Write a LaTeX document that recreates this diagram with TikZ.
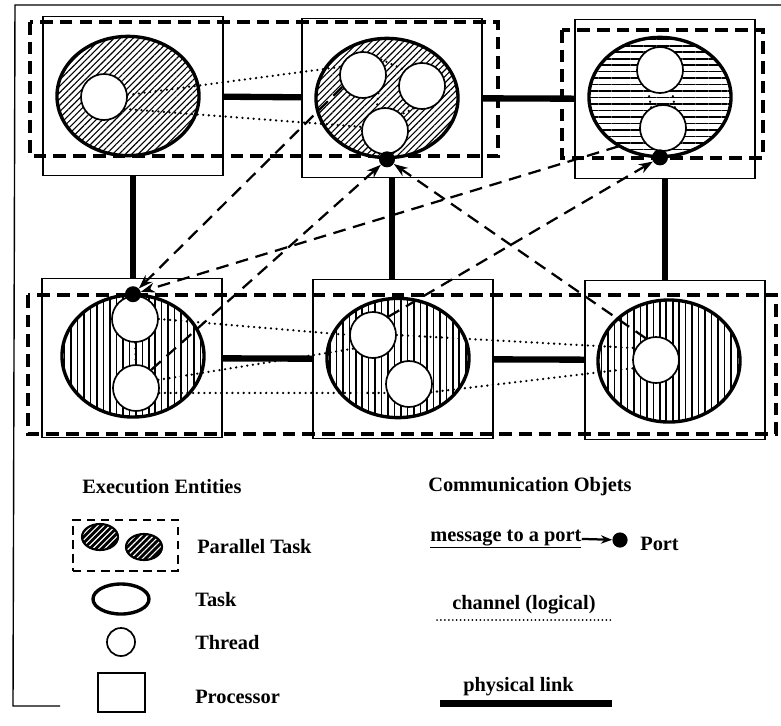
\documentclass[tikz,border=0pt]{standalone}
\usepackage{fontspec}
\setmainfont{Liberation Serif}
\usetikzlibrary{arrows.meta, shapes.geometric, patterns.meta}

\begin{document}
\begin{tikzpicture}[x=0.025cm, y=-0.025cm,
    proc/.style={draw, line width=1.1pt, minimum width=4.5cm, minimum height=3.975cm, inner sep=0pt},
    task/.style={ellipse, draw, line width=2.4pt, minimum width=3.55cm, minimum height=2.98cm,
      inner sep=0pt, preaction={fill=white}},
    thread/.style={circle, draw, line width=1.2pt, fill=white, minimum size=1.15cm, inner sep=0pt},
    port/.style={circle, fill=black, minimum size=0.4cm, inner sep=0pt}]
  \tikzset{diag/.style={pattern={Lines[angle=45, distance=3.2pt, line width=0.8pt]}},
    horiz/.style={pattern={Lines[angle=0, distance=4.6pt, line width=1.1pt]}},
    vert/.style={pattern={Lines[angle=90, distance=4.6pt, line width=1.1pt]}},
    link/.style={line width=4.5pt},
    ptask/.style={line width=2.8pt, dash pattern=on 9pt off 5pt},
    chan/.style={line width=1.8pt, dash pattern=on 0pt off 4pt, line cap=round},
    msg/.style={line width=1.6pt, dash pattern=on 9pt off 5.5pt, -{Stealth[length=10pt, width=7pt]}},
    lbl/.style={anchor=west, inner sep=0pt, font=\fontsize{14.5}{16}\selectfont\bfseries}}
  \useasboundingbox (0,0) rectangle (781,725);
  \draw[line width=1pt] (781,5) -- (15,5) -- (13,706) -- (60,706);

  \node[proc] (p1) at (133,96) {};
  \node[proc] (p2) at (392,98) {};
  \node[proc] (p3) at (665,99) {};
  \node[proc] (p4) at (132,358) {};
  \node[proc] (p5) at (403,359) {};
  \node[proc] (p6) at (675,360) {};

  \draw[ptask] (30,22) rectangle (498,156);
  \draw[ptask] (562,30) rectangle (763,158);
  \draw[ptask] (28,295) rectangle (776,434);

  \draw[link] (p1) -- (p2);
  \draw[link] (p2) -- (p3);
  \draw[link] (p4) -- (p5);
  \draw[link] (p5) -- (p6);
  \draw[link] (p1.south) -- (p1.south |- p4.north);
  \draw[link] (p2.south) -- (p2.south |- p5.north);
  \draw[link] (p3.south) -- (p3.south |- p6.north);

  \node[task, diag] (tk1) at (128,96) {};
  \node[task, diag] (tk2) at (387,98) {};
  \node[task, horiz] (tk3) at (660,97) {};
  \node[task, vert, minimum height=3.05cm] (tk4) at (133,356) {};
  \node[task, vert] (tk5) at (398,358) {};
  \node[task, vert, minimum height=3.05cm] (tk6) at (669,361) {};

  \node[thread] (th1) at (104,97) {};
  \node[thread] (th2a) at (363,75) {};
  \node[thread] (th2b) at (422,86) {};
  \node[thread] (th2c) at (385,131) {};
  \node[thread] (th3a) at (660,70) {};
  \node[thread] (th3b) at (663,128) {};
  \node[thread] (th4a) at (135,319) {};
  \node[thread] (th4b) at (136,388) {};
  \node[thread] (th5a) at (373,335) {};
  \node[thread] (th5b) at (409,384) {};
  \node[thread] (th6) at (656,360) {};

  \draw[chan] (th1.5) -- (th2a.160);
  \draw[chan] (th1.-30) -- (th2c.170);
  \draw[chan] (th2a.40) -- (th2b.137);
  \draw[chan] (th2a.-50) -- (th2c.110);
  \draw[chan] (th2b.250) -- (th2c.45);
  \draw[chan] (th3a.240) -- (th3b.120);
  \draw[chan] (th3a.300) -- (th3b.60);
  \draw[chan] (th4a) -- (th4b);
  \draw[chan] (th4a.0) -- (th5a.180);
  \draw[chan] (th4b.20) -- (th5a.215);
  \draw[chan] (th4b.-12) -- (th5b.-158);
  \draw[chan] (th5a.0) -- (th6.150);
  \draw[chan] (th5b.-20) -- (th6.200);

  \node[port] (pt2) at (tk2.south) {};
  \node[port] (pt3) at (tk3.south) {};
  \node[port] (pt4) at (tk4.north) {};

  \draw[msg] (th2a.210) -- (pt4);
  \draw[msg] (tk3.230) -- (pt4);
  \draw[msg] (th4b.50) -- (pt2);
  \draw[msg] (th6.115) -- (pt2);
  \draw[msg] (th5a.50) -- (pt3);

  \node[lbl] (exhead) at (82,487) {Execution Entities};
  \node[draw, line width=2pt, dash pattern=on 6pt off 4pt, minimum width=2.625cm,
    minimum height=1.275cm] (lpt) at (125.5,545.5) {};
  \node[ellipse, draw, line width=1.5pt, minimum width=0.9cm, minimum height=0.65cm,
    preaction={fill=black}, pattern={Lines[angle=45, distance=3pt, line width=0.8pt]},
    pattern color=white] (lpta) at (100,537) {};
  \node[ellipse, draw, line width=1.5pt, minimum width=0.9cm, minimum height=0.65cm,
    preaction={fill=black}, pattern={Lines[angle=45, distance=3pt, line width=0.8pt]},
    pattern color=white] (lptb) at (144,547) {};
  \node[lbl] (lptl) at (197,547) {Parallel Task};
  \node[ellipse, draw, line width=2.4pt, minimum width=1.4cm, minimum height=0.75cm] (ltask) at (121,599) {};
  \node[lbl] (ltaskl) at (195,600) {Task};
  \node[thread, minimum size=0.7cm] (lthread) at (121,642) {};
  \node[lbl] (lthreadl) at (195,643) {Thread};
  \node[draw, line width=1.1pt, minimum width=1.175cm, minimum height=0.975cm] (lproc) at (121.5,692.5) {};
  \node[lbl] (lprocl) at (195,697) {Processor};

  \node[lbl] (cohead) at (428,487) {Communication Objets};
  \node[lbl, anchor=base west] (lmsg) at (430,541) {\underline{message to a port}};
  \node[port, minimum size=0.38cm] (lport) at (620,540) {};
  \node[lbl, anchor=base west] (lportl) at (640,550) {Port};
  \draw[line width=1.6pt, -{Stealth[length=8pt, width=6pt]}] (lmsg.east) -- (lport);
  \node[lbl] (lchan) at (452,605) {channel (logical)};
  \coordinate (chs) at (437,620);
  \coordinate (che) at (613,620);
  \draw[chan, line width=1.4pt, dash pattern=on 0pt off 2.8pt] (chs) -- (che);
  \node[lbl] (lphys) at (463,687) {physical link};
  \coordinate (phs) at (440,703);
  \coordinate (phe) at (612,703);
  \draw[link, line width=5pt] (phs) -- (phe);
\end{tikzpicture}
\end{document}
